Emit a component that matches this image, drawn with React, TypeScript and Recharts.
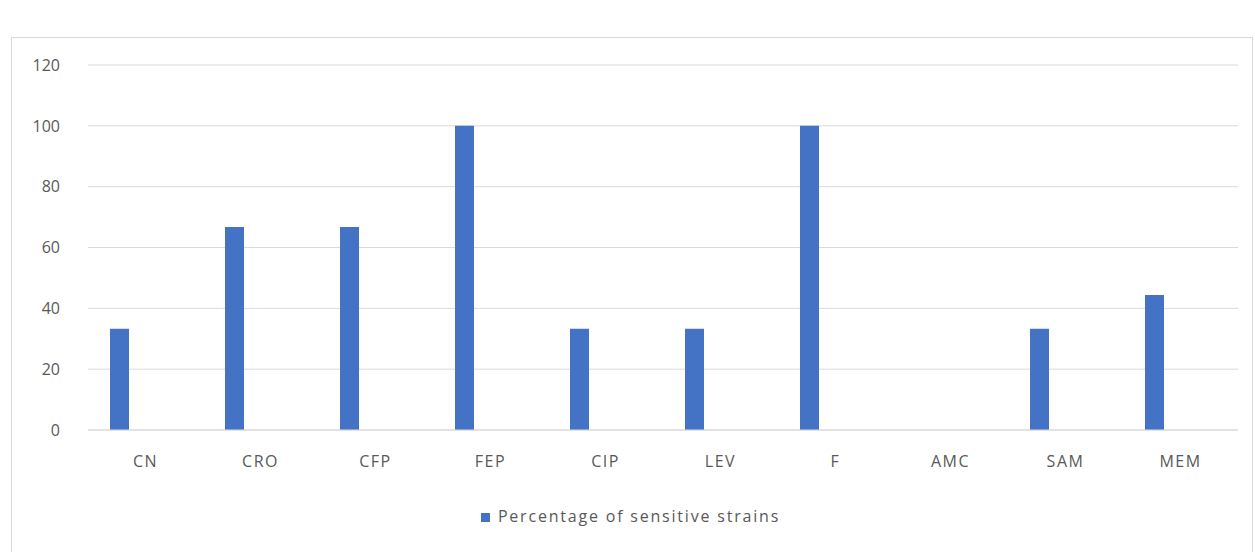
import { BarChart, Bar, XAxis, YAxis, CartesianGrid, Legend } from "recharts";

const antibiotics = ["CN", "CRO", "CFP", "FEP", "CIP", "LEV", "F", "AMC", "SAM", "MEM"];
const sensitivePct = [33.3, 66.7, 66.7, 100, 33.3, 33.3, 100, 0, 33.3, 44.4];
// empty companion series in the source sheet; they only take up slot space
const blankSeriesA = [null, null, null, null, null, null, null, null, null, null];
const blankSeriesB = [null, null, null, null, null, null, null, null, null, null];
const yTicks = [0, 20, 40, 60, 80, 100, 120];

const data = antibiotics.map((name, i) => ({
  name,
  sensitive: sensitivePct[i],
  blankA: blankSeriesA[i],
  blankB: blankSeriesB[i],
}));

const font = "'Open Sans', sans-serif";
const textColor = "#595959";

export default function App() {
  return (
    <div
      style={{
        position: "absolute",
        left: 0,
        top: 0,
        width: 1255,
        height: 552,
        background: "#fff",
        overflow: "hidden",
        fontFamily: font,
      }}
    >
      <div
        style={{
          position: "absolute",
          left: 11,
          top: 37,
          width: 1240,
          height: 540,
          border: "1px solid #d9d9d9",
        }}
      />
      <div style={{ position: "absolute", left: 0, top: 0 }}>
        <BarChart
          width={1255}
          height={552}
          data={data}
          margin={{ top: 65, right: 17, bottom: 66, left: 0 }}
          barGap={7}
        >
          <CartesianGrid vertical={false} stroke="#d9d9d9" strokeWidth={1} />
          <XAxis
            dataKey="name"
            axisLine={{ stroke: "#d9d9d9" }}
            tickLine={false}
            tickMargin={20}
            height={32}
            tick={{ fill: textColor, fontSize: 16, fontFamily: font, letterSpacing: 1.5 }}
          />
          <YAxis
            width={88}
            domain={[0, 120]}
            ticks={yTicks}
            axisLine={false}
            tickLine={false}
            tickMargin={22}
            tick={{ fill: textColor, fontSize: 16, fontFamily: font }}
          />
          <Legend
            verticalAlign="bottom"
            height={24}
            iconType="square"
            iconSize={9}
            wrapperStyle={{ fontFamily: font, fontSize: 16, top: 505, left: 8, width: 1255 }}
            formatter={(value) => (
              <span style={{ color: textColor, letterSpacing: 1.8, marginLeft: 4 }}>{value}</span>
            )}
          />
          <Bar
            dataKey="sensitive"
            name="Percentage of sensitive strains"
            fill="#4472C4"
            barSize={19}
            isAnimationActive={false}
          />
          <Bar dataKey="blankA" legendType="none" fill="#ED7D31" barSize={19} isAnimationActive={false} />
          <Bar dataKey="blankB" legendType="none" fill="#A5A5A5" barSize={19} isAnimationActive={false} />
        </BarChart>
      </div>
    </div>
  );
}
